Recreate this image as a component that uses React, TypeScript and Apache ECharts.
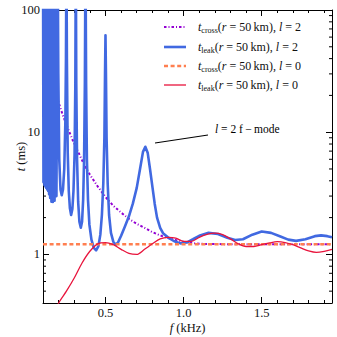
import React, { useEffect, useRef } from "react";
import * as echarts from "echarts";

const X_MIN = 0.1;
const X_MAX = 1.95;
const Y_MIN = 0.4;
const Y_MAX = 100;

const xMajorTicks = [0.5, 1.0, 1.5];
const xMinorTicks = [0.2, 0.3, 0.4, 0.6, 0.7, 0.8, 0.9, 1.1, 1.2, 1.3, 1.4, 1.6, 1.7, 1.8, 1.9];
const yMajorLabels = [1, 10, 100];
const yMinorTicks = [0.5, 0.6, 0.7, 0.8, 0.9, 2, 3, 4, 5, 6, 7, 8, 9, 20, 30, 40, 50, 60, 70, 80, 90];

// t_cross(r=50km), l=2  [f (kHz), t (ms)]
const crossL2: [number, number][] = [
  [0.19, 19.5], [0.2, 17.5], [0.225, 14.0], [0.25, 11.5], [0.275, 9.6], [0.3, 8.0], [0.325, 6.9],
  [0.35, 5.9], [0.375, 5.1], [0.4, 4.5], [0.45, 3.6], [0.5, 2.95], [0.55, 2.5], [0.6, 2.2],
  [0.65, 1.95], [0.7, 1.78], [0.75, 1.65], [0.8, 1.52], [0.85, 1.43], [0.9, 1.36], [0.95, 1.31],
  [1.0, 1.27], [1.05, 1.24], [1.1, 1.22], [1.2, 1.215], [1.3, 1.21], [1.5, 1.21], [1.7, 1.21], [1.95, 1.21],
];

// t_leak(r=50km), l=2
const leakL2: [number, number][] = [
  [0.100, 300], [0.103, 3.9], [0.106, 300], [0.109, 3.7], [0.112, 300], [0.115, 3.6], [0.118, 300],
  [0.121, 3.5], [0.124, 300], [0.127, 3.4], [0.130, 300], [0.133, 3.3], [0.136, 300], [0.139, 3.1],
  [0.142, 300], [0.146, 2.9], [0.150, 300], [0.154, 2.7], [0.158, 300], [0.163, 2.68], [0.168, 300],
  [0.174, 2.75], [0.180, 300], [0.186, 3.0], [0.190, 30], [0.194, 300], [0.198, 30], [0.204, 6],
  [0.212, 3.4], [0.22, 3.05], [0.228, 3.4], [0.236, 5], [0.243, 12], [0.247, 40], [0.25, 300],
  [0.253, 40], [0.258, 7], [0.265, 3.3], [0.272, 2.4], [0.28, 2.1], [0.288, 2.35], [0.295, 3.3],
  [0.302, 6.5], [0.307, 25], [0.31, 300], [0.313, 25], [0.318, 6], [0.325, 2.7], [0.333, 1.85],
  [0.342, 1.65], [0.35, 1.85], [0.357, 2.8], [0.363, 6], [0.368, 25], [0.372, 300], [0.376, 25],
  [0.381, 6], [0.388, 2.8], [0.397, 1.75], [0.41, 1.32], [0.425, 1.13], [0.44, 1.08], [0.455, 1.17],
  [0.467, 1.45], [0.477, 2.1], [0.486, 3.8], [0.493, 9], [0.497, 30], [0.5, 62], [0.503, 30],
  [0.507, 9], [0.514, 3.8], [0.523, 2.1], [0.535, 1.5], [0.55, 1.27], [0.565, 1.2], [0.58, 1.25],
  [0.6, 1.42], [0.625, 1.7], [0.65, 2.05], [0.675, 2.6], [0.7, 3.5], [0.72, 4.9], [0.74, 6.9],
  [0.755, 7.6], [0.77, 6.8], [0.785, 5.0], [0.8, 3.6], [0.815, 2.6], [0.83, 2.0], [0.85, 1.65],
  [0.87, 1.48], [0.9, 1.38], [0.94, 1.28], [0.98, 1.23], [1.02, 1.25], [1.06, 1.33], [1.1, 1.42],
  [1.16, 1.5], [1.22, 1.47], [1.28, 1.37], [1.33, 1.31], [1.38, 1.33], [1.44, 1.45], [1.5, 1.54],
  [1.56, 1.5], [1.62, 1.4], [1.67, 1.32], [1.72, 1.29], [1.78, 1.33], [1.84, 1.41], [1.88, 1.43],
  [1.92, 1.41], [1.95, 1.38],
];

// t_cross(r=50km), l=0
const crossL0: [number, number][] = [[0.1, 1.21], [1.95, 1.21]];

// t_leak(r=50km), l=0
const leakL0: [number, number][] = [
  [0.19, 0.36], [0.2, 0.4], [0.25, 0.5], [0.3, 0.64], [0.35, 0.85], [0.4, 1.06], [0.45, 1.22],
  [0.5, 1.25], [0.55, 1.2], [0.6, 1.1], [0.65, 1.02], [0.7, 1.0], [0.75, 1.1], [0.8, 1.22],
  [0.85, 1.34], [0.9, 1.38], [0.95, 1.36], [1.0, 1.28], [1.05, 1.28], [1.1, 1.38], [1.15, 1.46],
  [1.2, 1.49], [1.25, 1.45], [1.3, 1.34], [1.35, 1.22], [1.4, 1.16], [1.45, 1.16], [1.5, 1.2],
  [1.55, 1.24], [1.6, 1.27], [1.65, 1.25], [1.7, 1.2], [1.75, 1.13], [1.8, 1.07], [1.85, 1.04],
  [1.9, 1.06], [1.95, 1.1],
];

const COLORS = {
  crossL2: "#9400d3",
  leakL2: "#4169e1",
  crossL0: "#ff7f50",
  leakL0: "#e8143c",
};

const SERIF = "Liberation Serif";

function mathRich(size: number) {
  return {
    i: { fontFamily: SERIF, fontStyle: "italic", fontSize: size, lineHeight: size + 3, color: "#111" },
    n: { fontFamily: SERIF, fontSize: size, lineHeight: size + 3, color: "#111" },
    s: { fontFamily: SERIF, fontSize: Math.round(size * 0.7), lineHeight: 8, verticalAlign: "bottom", color: "#111" },
  };
}

export default function App() {
  const ref = useRef<HTMLDivElement>(null);

  useEffect(() => {
    document.body.style.margin = "0";
    if (!ref.current) return;
    const chart = echarts.init(ref.current, undefined, { renderer: "svg" });

    const axisLine = { show: true, lineStyle: { color: "#000", width: 1 } };
    const labelStyle = { fontFamily: SERIF, fontSize: 12.5, color: "#111" };

    const option: any = {
      animation: false,
      backgroundColor: "#fff",
      textStyle: { fontFamily: SERIF },
      grid: { left: 43, right: 5, top: 10, bottom: 34, containLabel: false, outerBoundsMode: "none" },
      xAxis: [
        {
          type: "value", position: "bottom", min: X_MIN, max: X_MAX,
          axisLine, splitLine: { show: false },
          axisTick: { show: true, inside: true, length: 6, customValues: xMajorTicks, lineStyle: { color: "#000" } },
          axisLabel: { ...labelStyle, margin: 3, customValues: xMajorTicks, formatter: (v: number) => v.toFixed(1) },
          name: "{i|f} (kHz)", nameLocation: "middle", nameGap: 17, nameMoveOverlap: false,
          nameTextStyle: { fontFamily: SERIF, fontSize: 12.5, color: "#111", rich: mathRich(12.5) },
        },
        {
          type: "value", position: "bottom", min: X_MIN, max: X_MAX,
          axisLine: { show: false }, splitLine: { show: false }, axisLabel: { show: false },
          axisTick: { show: true, inside: true, length: 3, customValues: xMinorTicks, lineStyle: { color: "#000" } },
        },
        {
          type: "value", position: "top", min: X_MIN, max: X_MAX,
          axisLine, splitLine: { show: false }, axisLabel: { show: false },
          axisTick: { show: true, inside: true, length: 6, customValues: xMajorTicks, lineStyle: { color: "#000" } },
        },
        {
          type: "value", position: "top", min: X_MIN, max: X_MAX,
          axisLine: { show: false }, splitLine: { show: false }, axisLabel: { show: false },
          axisTick: { show: true, inside: true, length: 3, customValues: xMinorTicks, lineStyle: { color: "#000" } },
        },
      ],
      yAxis: [
        {
          type: "log", logBase: 10, position: "left", min: Y_MIN, max: Y_MAX,
          axisLine, splitLine: { show: false }, minorTick: { show: false },
          axisTick: { show: true, inside: true, length: 6, lineStyle: { color: "#000" } },
          axisLabel: {
            ...labelStyle, margin: 3, showMinLabel: false,
            formatter: (v: number) => {
              const r = Math.round(v);
              return yMajorLabels.includes(r) && Math.abs(v - r) < 1e-6 ? String(r) : "";
            },
          },
          name: "{i|t} (ms)", nameLocation: "middle", nameGap: 14, nameMoveOverlap: false,
          nameTextStyle: { fontFamily: SERIF, fontSize: 12.5, color: "#111", rich: mathRich(12.5) },
        },
        {
          type: "log", logBase: 10, position: "right", min: Y_MIN, max: Y_MAX,
          axisLine, splitLine: { show: false }, axisLabel: { show: false },
          axisTick: { show: true, inside: true, length: 6, lineStyle: { color: "#000" } },
        },
      ],
      series: [
        {
          name: "crossL2", type: "line", data: crossL2, symbol: "none", z: 2, clip: true,
          lineStyle: { color: COLORS.crossL2, width: 2, type: [2.5, 2, 1, 2] },
        },
        {
          name: "leakL2", type: "line", data: leakL2, symbol: "none", z: 3, clip: true,
          lineStyle: { color: COLORS.leakL2, width: 2.6, join: "round" },
        },
        {
          name: "crossL0", type: "line", data: crossL0, symbol: "none", z: 4, clip: true,
          lineStyle: { color: COLORS.crossL0, width: 2.5, type: [4, 2.6] },
        },
        {
          name: "leakL0", type: "line", data: leakL0, symbol: "none", z: 5, clip: true, smooth: 0.3,
          lineStyle: { color: COLORS.leakL0, width: 1.3 },
        },
      ],
    };
    chart.setOption(option);

    // minor ticks on the log axis, placed through the axis scale
    const gLeft = chart.convertToPixel({ xAxisIndex: 0 }, X_MIN) as number;
    const gRight = chart.convertToPixel({ xAxisIndex: 0 }, X_MAX) as number;
    const minorEls: any[] = [];
    yMinorTicks.forEach((v) => {
      const py = chart.convertToPixel({ yAxisIndex: 0 }, v) as number;
      minorEls.push({ type: "line", shape: { x1: gLeft, y1: py, x2: gLeft + 3, y2: py }, style: { stroke: "#000", lineWidth: 1 }, silent: true });
      minorEls.push({ type: "line", shape: { x1: gRight - 3, y1: py, x2: gRight, y2: py }, style: { stroke: "#000", lineWidth: 1 }, silent: true });
    });

    const legendRich = mathRich(12);
    const legendRows = [
      { y: 27, color: COLORS.crossL2, width: 2, dash: [2.5, 2, 1, 2], text: "{i|t}{s|cross}{n|(}{i|r}{n| = 50\u2009km), }{i|l}{n| = 2}" },
      { y: 47, color: COLORS.leakL2, width: 2.6, dash: null, text: "{i|t}{s|leak}{n|(}{i|r}{n| = 50\u2009km), }{i|l}{n| = 2}" },
      { y: 66, color: COLORS.crossL0, width: 2.5, dash: [4, 2.6], text: "{i|t}{s|cross}{n|(}{i|r}{n| = 50\u2009km), }{i|l}{n| = 0}" },
      { y: 85, color: COLORS.leakL0, width: 1.3, dash: null, text: "{i|t}{s|leak}{n|(}{i|r}{n| = 50\u2009km), }{i|l}{n| = 0}" },
    ];
    const legendEls: any[] = [];
    legendRows.forEach((r) => {
      legendEls.push({
        type: "line", shape: { x1: 164, y1: r.y, x2: 186, y2: r.y },
        style: { stroke: r.color, lineWidth: r.width, lineDash: r.dash || undefined }, silent: true, z: 100,
      });
      legendEls.push({
        type: "text", x: 198, y: r.y, z: 100,
        style: { text: r.text, rich: legendRich, verticalAlign: "middle", align: "left", fill: "#111", fontFamily: SERIF },
      });
    });

    const annRich = mathRich(11.5);
    const annotation: any[] = [
      { type: "line", shape: { x1: 155, y1: 143, x2: 208, y2: 135 }, style: { stroke: "#000", lineWidth: 1.2 }, z: 100 },
      {
        type: "text", x: 215, y: 129, z: 100,
        style: {
          text: "{i|l}{n| = 2 f\u2009\u2212\u2009mode}", fontFamily: SERIF,
          rich: annRich, verticalAlign: "middle", align: "left",
        },
      },
    ];

    chart.setOption({ graphic: [...minorEls, ...legendEls, ...annotation] });

    return () => chart.dispose();
  }, []);

  return (
    <div
      ref={ref}
      style={{ position: "fixed", left: 0, top: 0, width: 337, height: 337, background: "#fff" }}
    />
  );
}
